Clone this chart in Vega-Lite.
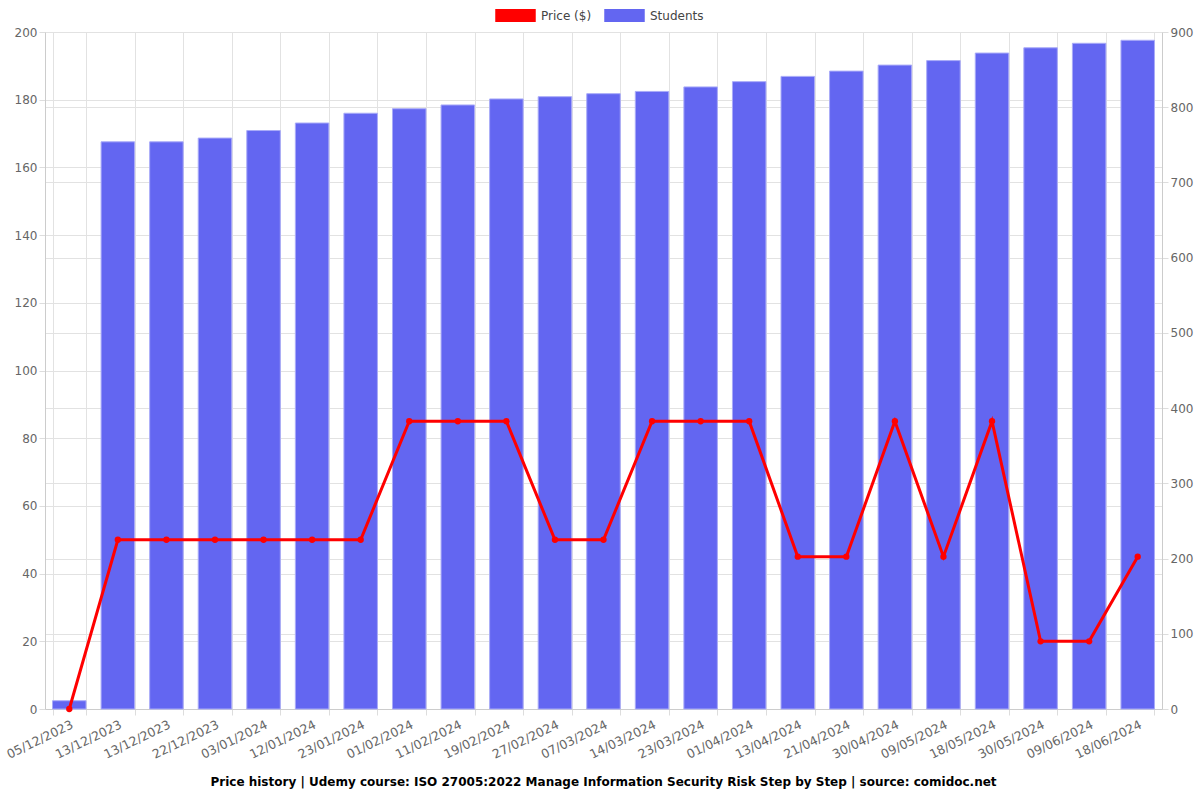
{
  "$schema": "https://vega.github.io/schema/vega-lite/v6.json",
  "width": 1117,
  "height": 677,
  "autosize": {"type": "none"},
  "padding": {"left": 45, "top": 32, "right": 38, "bottom": 91},
  "background": "white",
  "title": {
    "text": "Price history | Udemy course: ISO 27005:2022 Manage Information Security Risk Step by Step | source: comidoc.net",
    "orient": "bottom",
    "anchor": "middle",
    "font": "DejaVu Sans",
    "fontSize": 12,
    "fontWeight": "bold",
    "color": "#000000",
    "offset": 16
  },
  "config": {
    "font": "DejaVu Sans",
    "view": {"stroke": null},
    "axis": {
      "labelFont": "DejaVu Sans",
      "labelFontSize": 12,
      "labelColor": "#666666",
      "gridColor": "#e2e2e2",
      "domainColor": "#cccccc",
      "tickColor": "#dddddd",
      "tickSize": 6,
      "title": null
    }
  },
  "data": {
    "values": [
      {"date": "05/12/2023", "price": 0, "students": 11},
      {"date": "13/12/2023", "price": 50, "students": 754},
      {"date": "13/12/2023 b", "price": 50, "students": 754},
      {"date": "22/12/2023", "price": 50, "students": 759},
      {"date": "03/01/2024", "price": 50, "students": 769},
      {"date": "12/01/2024", "price": 50, "students": 779},
      {"date": "23/01/2024", "price": 50, "students": 792},
      {"date": "01/02/2024", "price": 85, "students": 798},
      {"date": "11/02/2024", "price": 85, "students": 803},
      {"date": "19/02/2024", "price": 85, "students": 811},
      {"date": "27/02/2024", "price": 50, "students": 814},
      {"date": "07/03/2024", "price": 50, "students": 818},
      {"date": "14/03/2024", "price": 85, "students": 821},
      {"date": "23/03/2024", "price": 85, "students": 827},
      {"date": "01/04/2024", "price": 85, "students": 834},
      {"date": "13/04/2024", "price": 45, "students": 841},
      {"date": "21/04/2024", "price": 45, "students": 848},
      {"date": "30/04/2024", "price": 85, "students": 856},
      {"date": "09/05/2024", "price": 45, "students": 862},
      {"date": "18/05/2024", "price": 85, "students": 872},
      {"date": "30/05/2024", "price": 20, "students": 879},
      {"date": "09/06/2024", "price": 20, "students": 885},
      {"date": "18/06/2024", "price": 45, "students": 889}
    ]
  },
  "encoding": {
    "x": {
      "field": "date",
      "type": "nominal",
      "sort": null,
      "scale": {"paddingInner": 0.31, "paddingOuter": 0.155},
      "axis": {
        "labelExpr": "datum.value ? split(datum.value, ' ')[0] : ''",
        "labelAngle": -26,
        "labelAlign": "right",
        "labelBaseline": "top",
        "labelPadding": 3,
        "labelFontSize": 12.5,
        "tickBand": "extent",
        "grid": true,
        "domainColor": "#cccccc"
      }
    }
  },
  "layer": [
    {
      "mark": {"type": "bar", "stroke": "#a9abf8", "strokeWidth": 1},
      "encoding": {
        "y": {
          "field": "students",
          "type": "quantitative",
          "scale": {"domain": [0, 900], "nice": false},
          "axis": {"orient": "right", "values": [0, 100, 200, 300, 400, 500, 600, 700, 800, 900], "grid": true}
        },
        "color": {
          "datum": "Students",
          "type": "nominal",
          "scale": {"domain": ["Price ($)", "Students"], "range": ["#ff0000", "#6366f1"]},
          "legend": {
            "orient": "none",
            "legendX": 450,
            "legendY": -37,
            "direction": "horizontal",
            "title": null,
            "symbolType": "M-1,-0.32L1,-0.32L1,0.32L-1,0.32Z",
            "symbolSize": 1640,
            "symbolStrokeWidth": 0,
            "labelFont": "DejaVu Sans",
            "labelFontSize": 12,
            "labelColor": "#444444",
            "labelOffset": 5,
            "columnPadding": 12,
            "encode": {
              "symbols": {
                "update": {
                  "fill": {"scale": "color", "field": "value"},
                  "fillOpacity": {"value": 1}
                }
              }
            }
          }
        }
      }
    },
    {
      "mark": {
        "type": "line",
        "strokeWidth": 3,
        "point": {"filled": true, "size": 40, "color": "#ff0000"}
      },
      "encoding": {
        "y": {
          "field": "price",
          "type": "quantitative",
          "scale": {"domain": [0, 200], "nice": false},
          "axis": {"orient": "left", "values": [0, 20, 40, 60, 80, 100, 120, 140, 160, 180, 200], "grid": true}
        },
        "color": {"datum": "Price ($)", "type": "nominal"}
      }
    }
  ],
  "resolve": {"scale": {"y": "independent"}}
}
